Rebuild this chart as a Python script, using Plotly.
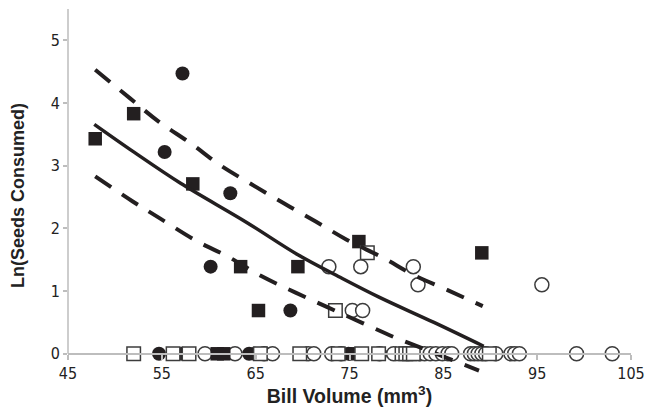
import plotly.graph_objects as go

# ---- data ----
fsq_x = [47.9, 52.0, 58.3, 63.4, 69.5, 65.3, 76.0, 89.1, 60.9, 61.6, 75.6]
fsq_y = [3.43, 3.83, 2.71, 1.39, 1.39, 0.69, 1.79, 1.61, 0, 0, 0]

fci_x = [57.2, 55.3, 62.3, 60.2, 68.7, 54.7, 57.2, 64.3, 64.9, 74.9]
fci_y = [4.47, 3.22, 2.56, 1.39, 0.69, 0, 0, 0, 0, 0]

osq_x = [76.9, 73.5, 52.0, 56.2, 57.9, 65.5, 69.7, 73.8, 76.3, 78.1, 80.6, 81.0, 81.4, 81.8, 89.9]
osq_y = [1.61, 0.69, 0, 0, 0, 0, 0, 0, 0, 0, 0, 0, 0, 0, 0]

oci_x = [72.8, 76.2, 81.8, 82.3, 95.5, 75.3, 76.4,
         59.6, 62.8, 65.9, 66.8, 70.6, 71.2, 73.1, 74.1, 78.2, 79.7, 82.5, 83.0,
         83.6, 84.2, 84.9, 85.5, 85.9, 87.9, 88.3, 88.7, 89.1, 89.5, 90.6, 92.2,
         92.6, 93.1, 99.2, 103.0]
oci_y = [1.39, 1.39, 1.39, 1.10, 1.10, 0.69, 0.69] + [0] * 28

fit_x = [47.8, 52.0, 57.0, 64.0, 69.5, 74.0, 78.2, 84.0, 89.3]
fit_y = [3.66, 3.22, 2.72, 2.10, 1.58, 1.22, 0.90, 0.50, 0.12]

up_x = [47.9, 51.65, 54.7, 58.05, 61.2, 64.6, 68.0, 71.4, 74.7, 78.6, 81.8, 85.4, 89.2]
up_y = [4.53, 4.07, 3.70, 3.36, 3.01, 2.70, 2.40, 2.11, 1.82, 1.53, 1.26, 1.02, 0.76]

lo_x = [47.9, 51.9, 54.8, 58.7, 62.05, 65.6, 69.2, 72.7, 76.4, 80.0, 83.6, 88.8]
lo_y = [2.83, 2.43, 2.16, 1.80, 1.55, 1.24, 0.98, 0.74, 0.49, 0.25, 0.04, -0.27]

x_ticks = [45, 55, 65, 75, 85, 95, 105]
y_ticks = [0, 1, 2, 3, 4, 5]

X_RANGE = [45, 105]
Y_RANGE = [-0.45, 5.5]

DARK = "#231f20"
OUT = "#3c3c3c"
GRID = "#bdbdbd"
TICKFONT = "Liberation Sans Narrow, Arial Narrow, DejaVu Sans Condensed, sans-serif"
TITLEFONT = "Liberation Sans, Arial, Helvetica, sans-serif"

fig = go.Figure()

fig.add_trace(go.Scatter(x=oci_x, y=oci_y, mode="markers",
                         marker=dict(symbol="circle", size=14, color="white",
                                     line=dict(color=OUT, width=1.5))))
fig.add_trace(go.Scatter(x=fci_x, y=fci_y, mode="markers",
                         marker=dict(symbol="circle", size=14, color=DARK,
                                     line=dict(width=0))))
fig.add_trace(go.Scatter(x=fsq_x, y=fsq_y, mode="markers",
                         marker=dict(symbol="square", size=13.5, color=DARK,
                                     line=dict(width=0))))
fig.add_trace(go.Scatter(x=osq_x, y=osq_y, mode="markers",
                         marker=dict(symbol="square", size=13.5, color="white",
                                     line=dict(color=OUT, width=1.5))))

fig.add_trace(go.Scatter(x=fit_x, y=fit_y, mode="lines", line_shape="spline",
                         line=dict(color=DARK, width=3.5)))
fig.add_trace(go.Scatter(x=up_x, y=up_y, mode="lines", line_shape="spline",
                         line=dict(color=DARK, width=4, dash="19px,13px")))
fig.add_trace(go.Scatter(x=lo_x, y=lo_y, mode="lines", line_shape="spline",
                         line=dict(color=DARK, width=4, dash="19px,13px")))

zero_pos = (0 - Y_RANGE[0]) / (Y_RANGE[1] - Y_RANGE[0])

# page body has an 8px margin; size the figure so the plot lands where the reference has it
fig.update_layout(
    width=649, height=402,
    margin=dict(l=60, r=26, t=1, b=28),
    paper_bgcolor="white", plot_bgcolor="white",
    showlegend=False,
    xaxis=dict(range=X_RANGE, tickvals=x_ticks, ticktext=[str(v) for v in x_ticks],
               showgrid=False, zeroline=False, showline=True, linecolor=GRID,
               linewidth=1.5, ticks="outside", ticklen=5, tickcolor=GRID,
               tickwidth=1.5, anchor="free", position=zero_pos, automargin=False,
               tickfont=dict(family=TICKFONT, size=16, color="#222"),
               title=dict(text="<b>Bill Volume (mm<sup>3</sup>)</b>",
                          font=dict(family=TITLEFONT, size=19.5, color="#222"),
                          standoff=0)),
    yaxis=dict(range=Y_RANGE, tickvals=y_ticks, ticktext=[str(v) for v in y_ticks],
               showgrid=False, zeroline=False, showline=False, automargin=False,
               ticks="outside", ticklen=4, tickcolor=GRID, tickwidth=1.5,
               ticklabelstandoff=0,
               tickfont=dict(family=TICKFONT, size=16, color="#222"),
               title=dict(text="<b>Ln(Seeds Consumed)</b>",
                          font=dict(family=TITLEFONT, size=18, color="#222"),
                          standoff=33)),
    shapes=[dict(type="line", xref="paper", yref="y", x0=0, x1=0, y0=0,
                 y1=Y_RANGE[1], line=dict(color=GRID, width=1.5), layer="below")],
)

fig.write_html("out.html")
